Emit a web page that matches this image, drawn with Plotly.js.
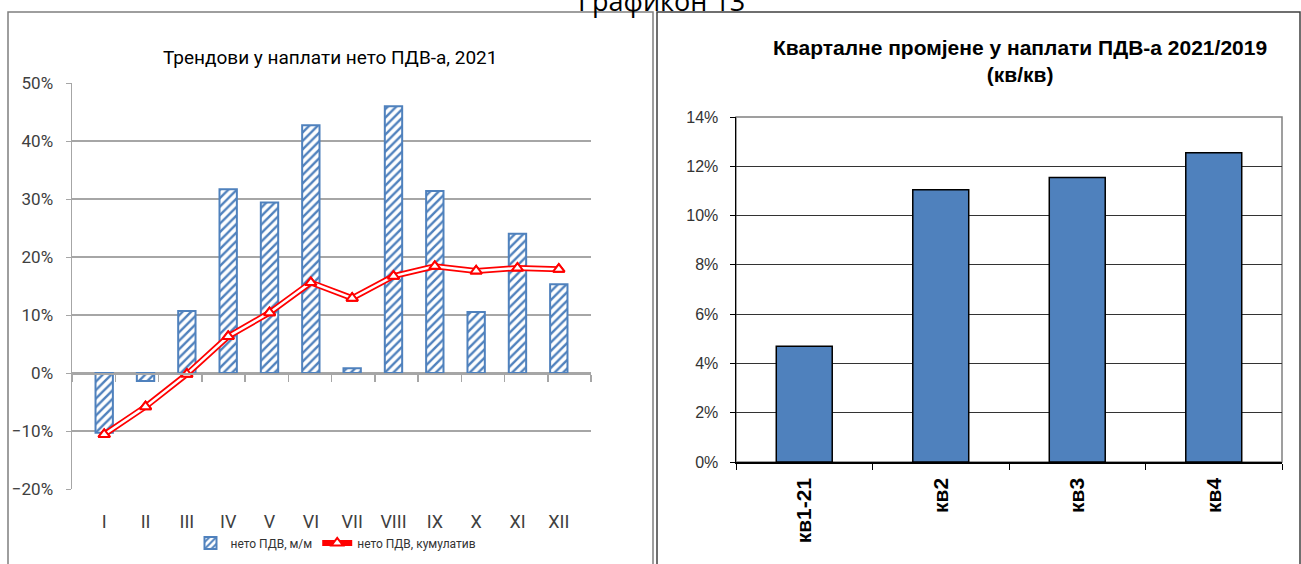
<!DOCTYPE html>
<html>
<head>
<meta charset="utf-8">
<script src="https://cdn.plot.ly/plotly-3.0.1.min.js"></script>
<style>html,body{margin:0;padding:0;background:#fff;}#chart{width:1301px;height:564px;}</style>
</head>
<body>
<div id="chart"></div>
<script>
// ---- data ----
var months = ['I','II','III','IV','V','VI','VII','VIII','IX','X','XI','XII'];
var monthlyNet = [-10.3, -1.4, 10.7, 31.7, 29.4, 42.7, 0.8, 46.0, 31.4, 10.5, 24.0, 15.3];
var cumulativeNet = [-10.6, -5.8, -0.2, 6.3, 10.4, 15.6, 12.9, 16.7, 18.4, 17.6, 18.1, 17.9];
var quarters = ['кв1-21','кв2','кв3','кв4'];
var quarterly = [4.7, 11.05, 11.55, 12.55];
var seriesNames = ['нето ПДВ, м/м', 'нето ПДВ, кумулатив'];

var W = 1301, H = 564;
function px(x){ return x / W; }
function py(y){ return 1 - y / H; }

var narrow = 'Roboto, "Liberation Sans Narrow", sans-serif';
var arial = '"Liberation Sans", Arial, sans-serif';
var blue = '#4F81BD';

var leftY = [py(489), py(83)];
var zeroPos = leftY[0] + (0 - (-20)) / 70 * (leftY[1] - leftY[0]);

var traces = [
  {
    type: 'bar', x: months, y: monthlyNet, name: seriesNames[0],
    xaxis: 'x', yaxis: 'y', width: 0.42,
    marker: {color: '#ffffff', line: {color: blue, width: 2},
      pattern: {shape: '/', fgcolor: blue, bgcolor: '#ffffff', size: 6, solidity: 0.4}},
    hoverinfo: 'x+y'
  },
  {
    type: 'scatter', mode: 'lines+markers', x: months, y: cumulativeNet, name: seriesNames[1],
    xaxis: 'x', yaxis: 'y',
    line: {color: '#ff0000', width: 6},
    marker: {symbol: 'triangle-up', size: 10, color: '#ffffff', line: {color: '#ff0000', width: 2}}
  },
  {
    type: 'scatter', mode: 'lines', x: months, y: cumulativeNet, showlegend: false,
    xaxis: 'x', yaxis: 'y', line: {color: '#ffffff', width: 2.5}, hoverinfo: 'skip'
  },
  {
    type: 'scatter', mode: 'markers', x: months, y: cumulativeNet, showlegend: false,
    xaxis: 'x', yaxis: 'y', hoverinfo: 'skip',
    marker: {symbol: 'triangle-up', size: 10, color: '#ffffff', line: {color: '#ff0000', width: 2}}
  },
  {
    type: 'scatter', mode: 'markers', x: months, y: months.map(function(){return 0;}),
    xaxis: 'x3', yaxis: 'y', showlegend: false, hoverinfo: 'skip', marker: {opacity: 0}
  },
  {
    type: 'bar', x: quarters, y: quarterly, xaxis: 'x2', yaxis: 'y2', showlegend: false,
    width: 0.41, marker: {color: blue, line: {color: '#000000', width: 1.5}}
  }
];

var layout = {
  width: W, height: H,
  margin: {l: 0, r: 0, t: 0, b: 0},
  paper_bgcolor: '#ffffff', plot_bgcolor: 'rgba(0,0,0,0)',
  showlegend: true,
  legend: {orientation: 'h', x: px(336), xanchor: 'center', y: py(543), yanchor: 'middle',
    font: {family: narrow, size: 12, color: '#333333'}, itemwidth: 30, tracegroupgap: 0,
    bgcolor: 'rgba(0,0,0,0)'},
  xaxis: {domain: [px(72), px(591)], anchor: 'y', type: 'category', showline: false,
    ticks: '', showgrid: false, zeroline: false, ticklabelstandoff: 20,
    tickfont: {family: narrow, size: 18, color: '#404040'}},
  xaxis3: {overlaying: 'x', anchor: 'free', position: zeroPos, type: 'category',
    categoryarray: months, categoryorder: 'array', range: [-0.5, 11.5],
    showline: true, linecolor: '#a6a6a6', linewidth: 1.5, ticks: 'outside', tickson: 'boundaries',
    ticklen: 7, tickcolor: '#a6a6a6', tickwidth: 1.5, showticklabels: false, showgrid: false, zeroline: false},
  yaxis: {domain: leftY, anchor: 'x', range: [-20, 50], dtick: 10, ticksuffix: '%',
    showgrid: true, gridcolor: '#a6a6a6', gridwidth: 1.5, zeroline: false,
    showline: true, linecolor: '#a6a6a6', linewidth: 1.5, ticks: 'outside', ticklen: 5,
    tickcolor: '#a6a6a6', ticklabelstandoff: 9,
    tickfont: {family: narrow, size: 17, color: '#404040'}},
  xaxis2: {domain: [px(736), px(1282)], anchor: 'y2', type: 'category',
    showline: true, linecolor: '#000000', linewidth: 1.5, ticks: 'outside', tickson: 'boundaries',
    ticklen: 6, tickcolor: '#000000', tickangle: -90, showgrid: false, zeroline: false,
    ticklabelstandoff: 6,
    tickfont: {family: arial, size: 21, color: '#000000', weight: 'bold'}},
  yaxis2: {domain: [py(462), py(117)], anchor: 'x2', range: [0, 14], dtick: 2, ticksuffix: '%',
    showgrid: true, gridcolor: '#333333', gridwidth: 1, zeroline: false,
    showline: true, linecolor: '#000000', linewidth: 1.5, ticks: 'outside', ticklen: 5,
    tickcolor: '#000000', ticklabelstandoff: 8,
    tickfont: {family: arial, size: 16, color: '#333333'}},
  annotations: [
    {text: 'Графикон 13', xref: 'paper', yref: 'paper', x: px(661), y: py(0), xanchor: 'center',
      yanchor: 'middle', showarrow: false, font: {family: '"Open Sans", "Noto Sans", sans-serif', size: 27, color: '#000'}},
    {text: 'Трендови у наплати нето ПДВ-а, 2021', xref: 'paper', yref: 'paper', x: px(330), y: py(57),
      xanchor: 'center', yanchor: 'middle', showarrow: false,
      font: {family: narrow, size: 19, color: '#000'}},
    {text: '<b>Кварталне промјене у наплати ПДВ-а 2021/2019<br>(кв/кв)</b>', xref: 'paper', yref: 'paper',
      x: px(1020), y: py(61), xanchor: 'center', yanchor: 'middle', showarrow: false,
      font: {family: arial, size: 21, color: '#000'}}
  ],
  shapes: [
    {type: 'rect', xref: 'paper', yref: 'paper', x0: px(8), x1: px(653), y0: py(570), y1: py(12),
      line: {color: '#7f7f7f', width: 1.5}},
    {type: 'rect', xref: 'paper', yref: 'paper', x0: px(657), x1: px(1300), y0: py(570), y1: py(12),
      line: {color: '#404040', width: 1.5}},
    {type: 'rect', xref: 'x2 domain', yref: 'y2 domain', x0: 0, x1: 1, y0: 0, y1: 1,
      line: {color: '#808080', width: 1.5}, layer: 'below'}
  ]
};

Plotly.newPlot('chart', traces, layout, {displayModeBar: false, staticPlot: true});
</script>
</body>
</html>
